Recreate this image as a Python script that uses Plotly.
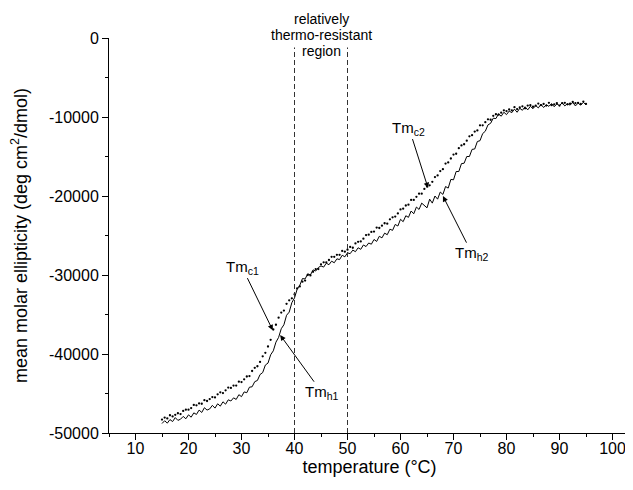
import plotly.graph_objects as go

# ---------------- data ----------------
temperature = [
    15.0, 15.5, 16.0, 16.5, 17.0, 17.5, 18.0, 18.5, 19.0, 19.5,
    20.0, 20.5, 21.0, 21.5, 22.0, 22.5, 23.0, 23.5, 24.0, 24.5,
    25.0, 25.5, 26.0, 26.5, 27.0, 27.5, 28.0, 28.5, 29.0, 29.5,
    30.0, 30.5, 31.0, 31.5, 32.0, 32.5, 33.0, 33.5, 34.0, 34.5,
    35.0, 35.5, 36.0, 36.5, 37.0, 37.5, 38.0, 38.5, 39.0, 39.5,
    40.0, 40.5, 41.0, 41.5, 42.0, 42.5, 43.0, 43.5, 44.0, 44.5,
    45.0, 45.5, 46.0, 46.5, 47.0, 47.5, 48.0, 48.5, 49.0, 49.5,
    50.0, 50.5, 51.0, 51.5, 52.0, 52.5, 53.0, 53.5, 54.0, 54.5,
    55.0, 55.5, 56.0, 56.5, 57.0, 57.5, 58.0, 58.5, 59.0, 59.5,
    60.0, 60.5, 61.0, 61.5, 62.0, 62.5, 63.0, 63.5, 64.0, 64.5,
    65.0, 65.5, 66.0, 66.5, 67.0, 67.5, 68.0, 68.5, 69.0, 69.5,
    70.0, 70.5, 71.0, 71.5, 72.0, 72.5, 73.0, 73.5, 74.0, 74.5,
    75.0, 75.5, 76.0, 76.5, 77.0, 77.5, 78.0, 78.5, 79.0, 79.5,
    80.0, 80.5, 81.0, 81.5, 82.0, 82.5, 83.0, 83.5, 84.0, 84.5,
    85.0, 85.5, 86.0, 86.5, 87.0, 87.5, 88.0, 88.5, 89.0, 89.5,
    90.0, 90.5, 91.0, 91.5, 92.0, 92.5, 93.0, 93.5, 94.0, 94.5,
    95.0,
]

heating = [
    -48800, -48450, -48750, -48300, -48550, -48050, -48400, -48250, -47900, -48200,
    -47700, -48000, -47450, -47650, -47100, -47400, -46800, -47100, -46950, -46500,
    -46850, -46300, -46600, -46050, -46350, -45800, -45950, -45550, -45750, -45150,
    -45400, -44800, -44900, -44200, -44150, -43500, -43350, -42600, -42350, -41400,
    -41150, -40100, -39600, -38500, -37900, -36800, -36300, -35100, -34700, -33500,
    -32900, -31800, -31300, -30450, -30500, -29850, -30000, -29350, -29500, -29050,
    -28850, -29000, -28500, -28700, -28250, -28450, -27950, -28050, -27500, -27700,
    -27200, -27300, -26850, -27050, -26550, -26750, -26200, -26400, -25950, -26100,
    -25500, -25750, -25100, -25300, -24700, -24900, -24200, -24350, -23600, -23800,
    -22950, -23250, -22500, -22700, -21900, -22250, -21400, -21700, -20900, -21150,
    -21500, -20400, -20900, -20000, -20400, -19500, -19800, -18800, -19000, -17900,
    -17950, -16900, -16900, -15900, -15850, -15000, -15000, -14100, -14050, -13100,
    -13000, -12100, -11800, -11000, -10800, -10150, -10200, -9600, -9900, -9400,
    -9700, -9250, -9450, -9000, -9400, -8900, -9150, -8700, -9100, -8650,
    -8950, -8550, -8850, -8400, -8800, -8450, -8650, -8300, -8700, -8350,
    -8550, -8200, -8600, -8300, -8500, -8150, -8600, -8250, -8500, -8150,
    -8450,
]

cooling = [
    -48300, -48050, -48150, -47750, -47900, -47700, -47500, -47600, -47200, -47050,
    -47050, -46850, -46450, -46500, -46250, -46300, -45850, -45950, -45700, -45450,
    -45500, -45100, -44850, -44950, -44600, -44250, -44300, -44000, -44000, -43500,
    -43550, -43200, -42850, -42800, -42150, -41750, -41550, -41000, -40300, -39850,
    -39050, -38200, -36900, -36300, -35400, -34750, -34500, -33650, -33200, -32950,
    -32450, -31700, -31450, -30850, -30700, -30000, -30050, -29600, -29250, -29250,
    -28650, -28400, -28400, -28100, -27700, -27700, -27450, -27450, -26950, -27050,
    -26800, -26450, -26550, -26000, -25800, -25750, -25400, -24950, -24900, -24550,
    -24500, -24000, -24050, -23750, -23450, -23500, -22950, -22700, -22600, -22200,
    -21700, -21600, -21200, -21100, -20500, -20500, -20100, -19700, -19700, -19100,
    -18800, -18650, -18200, -17600, -17400, -16850, -16600, -15900, -15750, -15250,
    -14750, -14650, -13950, -13600, -13450, -13000, -12450, -12300, -11850, -11700,
    -11050, -11050, -10650, -10300, -10350, -9850, -9650, -9700, -9450, -9150,
    -9250, -9050, -9150, -8750, -9000, -8800, -8650, -8900, -8550, -8500,
    -8700, -8550, -8300, -8500, -8350, -8550, -8200, -8500, -8400, -8250,
    -8550, -8250, -8200, -8400, -8300, -8100, -8250, -8200, -8350, -8050,
    -8350,
]

x_tick_vals = [10, 20, 30, 40, 50, 60, 70, 80, 90, 100]
x_tick_text = ["10", "20", "30", "40", "50", "60", "70", "80", "90", "100"]
y_tick_vals = [0, -10000, -20000, -30000, -40000, -50000]
y_tick_text = ["0", "-10000", "-20000", "-30000", "-40000", "-50000"]

region_bounds = [40, 50]
region_label = ["relatively", "thermo-resistant", "region"]

# transition labels: arrow tip (T, value) and label centre (T, value)
tm_labels = ["Tm<sub>c1</sub>", "Tm<sub>h1</sub>", "Tm<sub>c2</sub>", "Tm<sub>h2</sub>"]
tm_tip_t = [35.9, 37.3, 65.2, 68.0]
tm_tip_v = [-37000, -37600, -19000, -20000]
tm_text_t = [30.1, 45.2, 61.6, 73.5]
tm_text_v = [-29000, -44900, -11400, -27300]

FONT = "Arial, 'Liberation Sans', sans-serif"

fig = go.Figure()

fig.add_trace(go.Scatter(
    x=temperature, y=cooling, mode="markers",
    marker=dict(color="black", size=2.3, line=dict(width=0)),
    showlegend=False, hoverinfo="skip",
))
fig.add_trace(go.Scatter(
    x=temperature, y=heating, mode="lines",
    line=dict(color="black", width=1),
    showlegend=False, hoverinfo="skip",
))

for xb in region_bounds:
    fig.add_shape(type="line", xref="x", yref="y", x0=xb, x1=xb, y0=-50000, y1=-1200,
                  line=dict(color="#333333", width=1, dash="5px,3px"))

for i, txt in enumerate(region_label):
    fig.add_annotation(x=45, xref="x", y=[1.048, 1.007, 0.966][i], yref="paper",
                       text=txt, showarrow=False, font=dict(family=FONT, size=14, color="black"),
                       xanchor="center", yanchor="middle")

for i in range(len(tm_labels)):
    fig.add_annotation(
        x=tm_tip_t[i], y=tm_tip_v[i], xref="x", yref="y",
        ax=tm_text_t[i], ay=tm_text_v[i], axref="x", ayref="y",
        text=tm_labels[i], showarrow=True, arrowhead=2, arrowsize=1.1,
        arrowwidth=1, arrowcolor="black", standoff=0,
        font=dict(family=FONT, size=15, color="black"),
    )

fig.update_layout(
    width=625, height=482,
    margin=dict(l=101, r=3, t=30, b=57),
    paper_bgcolor="white", plot_bgcolor="white",
    font=dict(family=FONT, size=16, color="black"),
    xaxis=dict(
        range=[5, 103.3], tickmode="array", tickvals=x_tick_vals, ticktext=x_tick_text,
        ticks="outside", ticklen=6, tickwidth=1, tickcolor="black",
        minor=dict(dtick=5, tick0=5, ticks="outside", ticklen=3, tickcolor="black"),
        showline=True, linecolor="black", linewidth=1, showgrid=False, zeroline=False,
        ticklabelstandoff=-5,
        title=dict(text="temperature (°C)", font=dict(family=FONT, size=18), standoff=4),
        tickfont=dict(family=FONT, size=16),
    ),
    yaxis=dict(
        range=[-50000, 0], tickmode="array", tickvals=y_tick_vals, ticktext=y_tick_text,
        ticks="outside", ticklen=6, tickwidth=1, tickcolor="black",
        minor=dict(dtick=5000, tick0=0, ticks="outside", ticklen=3, tickcolor="black"),
        showline=True, linecolor="black", linewidth=1, showgrid=False, zeroline=False,
        title=dict(text="mean molar ellipticity (deg cm<sup>2</sup>/dmol)",
                   font=dict(family=FONT, size=18), standoff=18),
        tickfont=dict(family=FONT, size=16),
    ),
)

fig.write_html("out.html")
